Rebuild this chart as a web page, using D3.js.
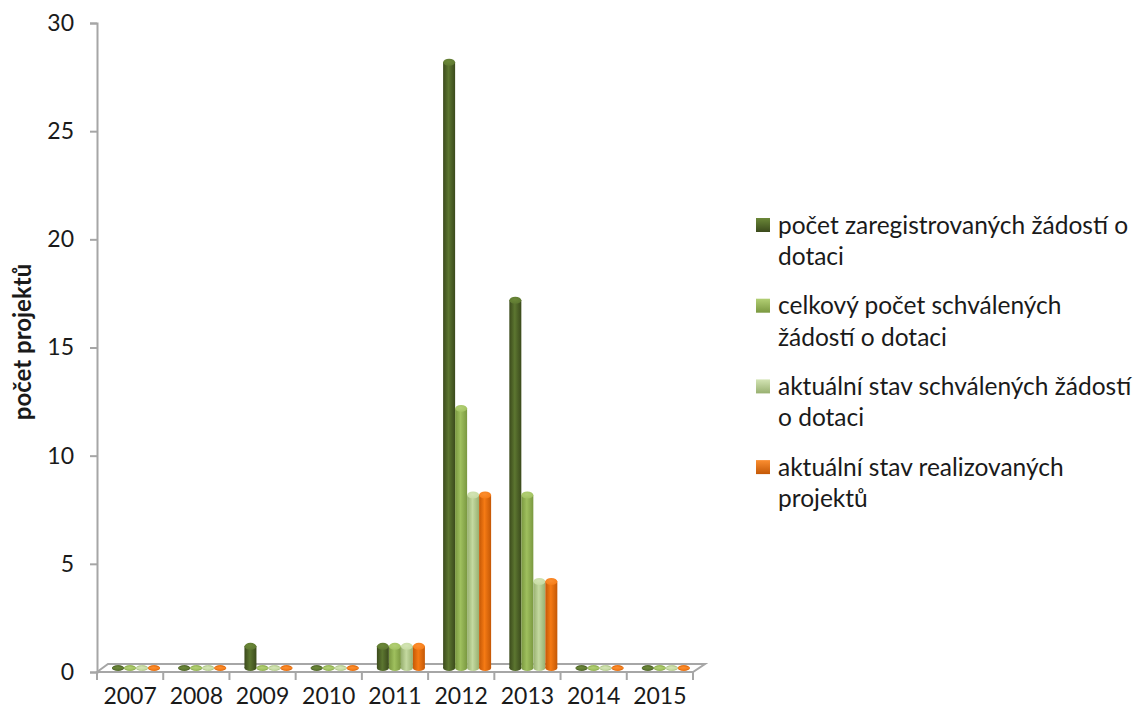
<!DOCTYPE html>
<html>
<head>
<meta charset="utf-8">
<script src="https://cdn.jsdelivr.net/npm/d3@7"></script>
<style>
    body { margin: 0; background: #fff; }
    svg { display: block; }
    text { font-family: Lato, "Noto Sans", sans-serif; fill: #1a1a1a; }
</style>
</head>
<body>
<svg id="chart" width="1140" height="718"></svg>
<script>
let years = ["2007", "2008", "2009", "2010", "2011", "2012", "2013", "2014", "2015"]

let registered = [0, 0, 1, 0, 1, 28, 17, 0, 0]
let approvedTotal = [0, 0, 0, 0, 1, 12, 8, 0, 0]
let approvedCurrent = [0, 0, 0, 0, 1, 8, 4, 0, 0]
let realized = [0, 0, 0, 0, 1, 8, 4, 0, 0]

let seriesLabels = [
    ["počet zaregistrovaných žádostí o", "dotaci"],
    ["celkový počet schválených", "žádostí o dotaci"],
    ["aktuální stav schválených žádostí", "o dotaci"],
    ["aktuální stav realizovaných", "projektů"]
]

let yTicks = [0, 5, 10, 15, 20, 25, 30]

// edge / middle / cap colours per series
let palette = [
    {edge: "#3b4a1c", mid: "#5c7630", cap: "#6b8838"},
    {edge: "#7a9840", mid: "#9fc05e", cap: "#b2cf74"},
    {edge: "#98b070", mid: "#c4d9a0", cap: "#d3e4b4"},
    {edge: "#c45806", mid: "#f57a14", cap: "#fb8e30"}
]

let series = [registered, approvedTotal, approvedCurrent, realized]

let svg = d3.select("#chart")

let plotLeft = 97, plotRight = 693, plotTop = 23, plotBottom = 672
let depthX = 6, depthY = -4   // bars sit midway in the floor depth

let x = d3.scaleBand(years, [plotLeft, plotRight])
let inner = d3.scaleBand(d3.range(series.length), [9, 57])
let y = d3.scaleLinear([0, 30], [plotBottom, plotTop])

let defs = svg.append("defs")
palette.forEach((p, i) => {
    let g = defs.append("linearGradient").attr("id", "body" + i)
        .attr("x1", 0).attr("x2", 1).attr("y1", 0).attr("y2", 0)
    g.append("stop").attr("offset", 0).attr("stop-color", p.edge)
    g.append("stop").attr("offset", 0.45).attr("stop-color", p.mid)
    g.append("stop").attr("offset", 1).attr("stop-color", p.edge)

    let c = defs.append("radialGradient").attr("id", "cap" + i)
        .attr("cx", 0.45).attr("cy", 0.4).attr("r", 0.7)
    c.append("stop").attr("offset", 0).attr("stop-color", p.cap)
    c.append("stop").attr("offset", 1).attr("stop-color", p.mid)

    let s = defs.append("linearGradient").attr("id", "leg" + i)
        .attr("x1", 0).attr("x2", 0).attr("y1", 0).attr("y2", 1)
    s.append("stop").attr("offset", 0).attr("stop-color", p.cap)
    s.append("stop").attr("offset", 1).attr("stop-color", p.edge)
})

// floor
let floorPts = [[plotLeft, plotBottom], [plotLeft + 11, plotBottom - 8], [plotRight + 12, plotBottom - 8], [plotRight, plotBottom]]
svg.append("polygon")
    .attr("points", floorPts.map(p => p.join(",")).join(" "))
    .attr("fill", "#fff")
    .attr("stroke", "#a6a6a6")
    .attr("stroke-width", 2)

// x boundary ticks
let bounds = years.map(d => x(d)).concat([plotRight])
svg.selectAll("line.xtick")
    .data(bounds)
    .enter()
    .append("line")
    .attr("class", "xtick")
    .attr("x1", d => d).attr("x2", d => d)
    .attr("y1", plotBottom).attr("y2", plotBottom + 8)
    .attr("stroke", "#a6a6a6")
    .attr("stroke-width", 2)

// y axis
let yAxis = svg.append("g")
    .attr("transform", `translate(${plotLeft},0)`)
    .call(d3.axisLeft(y).tickValues(yTicks).tickSize(7).tickPadding(16))
yAxis.selectAll("path, line").attr("stroke", "#a6a6a6").attr("stroke-width", 2)
yAxis.selectAll("text").style("font-size", "23px").attr("fill", "#1a1a1a")
    .style("font-family", "Lato, 'Noto Sans', sans-serif")

// year labels
svg.selectAll("text.year")
    .data(years)
    .enter()
    .append("text")
    .attr("class", "year")
    .attr("x", d => x(d) + x.bandwidth() / 2)
    .attr("y", 704)
    .attr("text-anchor", "middle")
    .style("font-size", "23px")
    .text(d => d)

// bars (cylinders)
let bars = []
series.forEach((vals, s) => {
    vals.forEach((v, i) => bars.push({s: s, year: years[i], v: v}))
})

let w = inner.bandwidth()
let ry = 3

let bar = svg.selectAll("g.bar")
    .data(bars)
    .enter()
    .append("g")
    .attr("class", "bar")
    .attr("transform", d => `translate(${x(d.year) + inner(d.s) + depthX},${depthY})`)

bar.append("ellipse")
    .attr("cx", w / 2).attr("cy", plotBottom)
    .attr("rx", w / 2).attr("ry", ry)
    .attr("fill", d => `url(#body${d.s})`)

bar.append("rect")
    .attr("x", 0).attr("width", w)
    .attr("y", d => y(d.v))
    .attr("height", d => plotBottom - y(d.v))
    .attr("fill", d => `url(#body${d.s})`)

bar.append("ellipse")
    .attr("cx", w / 2).attr("cy", d => y(d.v))
    .attr("rx", w / 2).attr("ry", d => d.v > 0 ? ry + 0.5 : 1.8)
    .attr("fill", d => `url(#cap${d.s})`)

// y title
svg.append("text")
    .attr("transform", "translate(31,342) rotate(-90)")
    .attr("text-anchor", "middle")
    .style("font-size", "24px")
    .style("font-weight", "bold")
    .attr("fill", "#000")
    .text("počet projektů")

// legend
let legend = svg.selectAll("g.legend")
    .data(seriesLabels)
    .enter()
    .append("g")
    .attr("class", "legend")
    .attr("transform", (d, i) => `translate(756,${225 + i * 80.7})`)

legend.append("rect")
    .attr("x", 0).attr("y", -7)
    .attr("width", 14).attr("height", 14)
    .attr("fill", (d, i) => `url(#leg${i})`)

legend.selectAll("text")
    .data(d => d)
    .enter()
    .append("text")
    .attr("x", 22)
    .attr("y", (d, j) => j * 31.5)
    .attr("dy", "0.35em")
    .style("font-size", "24.5px")
    .text(d => d)
</script>
</body>
</html>
